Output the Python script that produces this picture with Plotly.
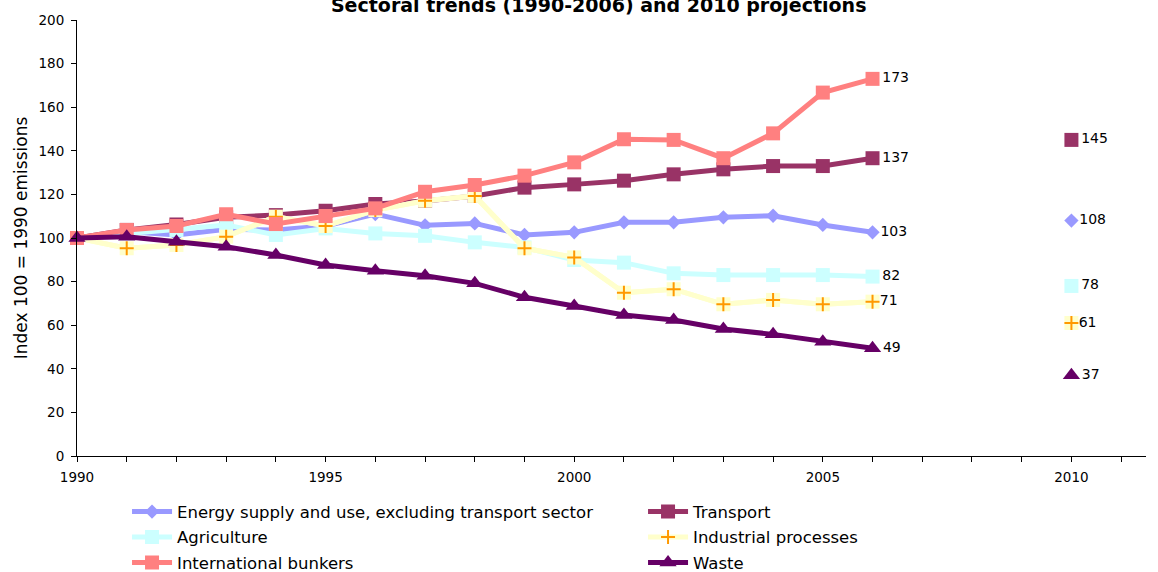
import plotly.graph_objects as go

years = list(range(1990, 2007))
proj_year = 2010

energy = [100, 103, 101.4, 104, 103.7, 105.5, 111, 105.8, 106.7, 101.4, 102.6, 107.2, 107.2, 109.5, 110.2, 106, 102.6]
transport = [100, 103.7, 106.2, 109.5, 110.5, 112.5, 115.6, 117, 119.3, 123.1, 124.6, 126.3, 129.2, 131.5, 133, 133, 136.6]
agriculture = [100, 102.1, 103.7, 106, 101.4, 104.4, 102.1, 101, 98, 95.7, 89.9, 88.7, 83.8, 83, 83, 83, 82.3]
industrial = [100, 95.3, 96.8, 100.6, 109.8, 105.5, 112.8, 117.1, 119.3, 95.3, 91.1, 74.9, 76.5, 69.6, 71.6, 69.6, 70.8]
bunkers = [100, 103.7, 105.5, 110.9, 106.4, 110.1, 113.6, 121.2, 124.3, 128.6, 134.7, 145.3, 145, 136.6, 148, 166.7, 173]
waste = [100, 100.6, 98.3, 96, 92.2, 87.6, 85, 82.7, 79.2, 72.8, 68.8, 64.7, 62.4, 58.3, 55.8, 52.4, 49.4]

proj_transport = 145
proj_energy = 108
proj_agriculture = 78
proj_industrial = 61
proj_waste = 37

names = {
    "energy": "Energy supply and use, excluding transport sector",
    "transport": "Transport",
    "agriculture": "Agriculture",
    "industrial": "Industrial processes",
    "bunkers": "International bunkers",
    "waste": "Waste",
}

FONT = "Verdana, DejaVu Sans, sans-serif"
LW = 5


def end_labels(vals):
    return [""] * (len(vals) - 1) + [str(round(vals[-1]))]


fig = go.Figure()


def add_series(vals, name, lcolor, mcolor, symbol, size, legend, proj=None, mline=None):
    fig.add_trace(go.Scatter(
        x=years, y=vals, name=name, mode="lines+markers+text",
        legend=legend, legendgroup=name,
        line=dict(color=lcolor, width=LW),
        marker=dict(symbol=symbol, size=size, color=mcolor,
                    line=mline if mline else dict(width=0)),
        text=end_labels(vals), textposition="middle right",
        textfont=dict(family=FONT, size=14, color="black"),
        cliponaxis=False, hoverinfo="x+y+name",
    ))
    if proj is not None:
        fig.add_trace(go.Scatter(
            x=[proj_year], y=[proj], mode="markers+text", showlegend=False,
            marker=dict(symbol=symbol, size=size, color=mcolor,
                        line=mline if mline else dict(width=0)),
            text=[str(proj)], textposition="middle right",
            textfont=dict(family=FONT, size=14, color="black"),
            cliponaxis=False,
        ))


add_series(energy, names["energy"], "#9999FF", "#9999FF", "diamond", 11, "legend", proj_energy)
add_series(transport, names["transport"], "#993366", "#993366", "square", 14, "legend2", proj_transport)
add_series(agriculture, names["agriculture"], "#CCFFFF", "#CCFFFF", "square", 14, "legend", proj_agriculture)

# industrial: light-yellow square background behind orange cross
fig.add_trace(go.Scatter(
    x=years, y=industrial, mode="lines+markers", showlegend=False,
    line=dict(color="#FFFFCC", width=LW),
    marker=dict(symbol="square", size=14, color="#FFFFCC"), hoverinfo="skip",
))
fig.add_trace(go.Scatter(
    x=[proj_year], y=[proj_industrial], mode="markers", showlegend=False,
    marker=dict(symbol="square", size=14, color="#FFFFCC"), hoverinfo="skip",
))
add_series(industrial, names["industrial"], "#FFFFCC", "#FF9900", "cross-thin", 10, "legend2", proj_industrial,
           mline=dict(color="#FF9900", width=2))

add_series(bunkers, names["bunkers"], "#FF8080", "#FF8080", "square", 14, "legend")
add_series(waste, names["waste"], "#660066", "#660066", "triangle-up", 15, "legend2", proj_waste)

tickvals = list(range(1990, 2012))
ticktext = [str(y) if y % 5 == 0 else "" for y in tickvals]

leg_common = dict(orientation="v", yanchor="top", xanchor="left",
                  font=dict(family=FONT, size=16.5, color="black"),
                  bgcolor="rgba(0,0,0,0)", tracegroupgap=1, itemwidth=40)

fig.update_layout(
    width=1158, height=572,
    margin=dict(l=77, r=12, t=20, b=116, autoexpand=False),
    paper_bgcolor="white", plot_bgcolor="white",
    font=dict(family=FONT, size=14, color="black"),
    title=dict(text="<b>Sectoral trends (1990-2006) and 2010 projections</b>",
               x=0.517, xref="container", xanchor="center", y=0.9906, yanchor="middle",
               yref="container", font=dict(family=FONT, size=19, color="black")),
    xaxis=dict(range=[1990, 2011.5], tickmode="array", tickvals=tickvals, ticktext=ticktext,
               ticks="outside", ticklen=5, tickcolor="black", showgrid=False, zeroline=False,
               showline=True, linecolor="black", linewidth=1, automargin=False,
               ticklabelstandoff=4, tickfont=dict(family=FONT, size=13.5)),
    yaxis=dict(range=[0, 200], dtick=20, ticks="outside", ticklen=5, tickcolor="black",
               showgrid=False, zeroline=False, showline=True, linecolor="black", linewidth=1,
               tickfont=dict(family=FONT, size=13.5), automargin=False, ticklabelstandoff=4,
               title=dict(text="Index 100 = 1990 emissions", font=dict(family=FONT, size=17),
                          standoff=6)),
    legend=dict(x=0.0468, y=-0.088, **leg_common),
    legend2=dict(x=0.5295, y=-0.088, **leg_common),
    showlegend=True,
)

fig.write_html("out.html", config={"displayModeBar": False},
               post_script="document.body.style.margin='0';")
